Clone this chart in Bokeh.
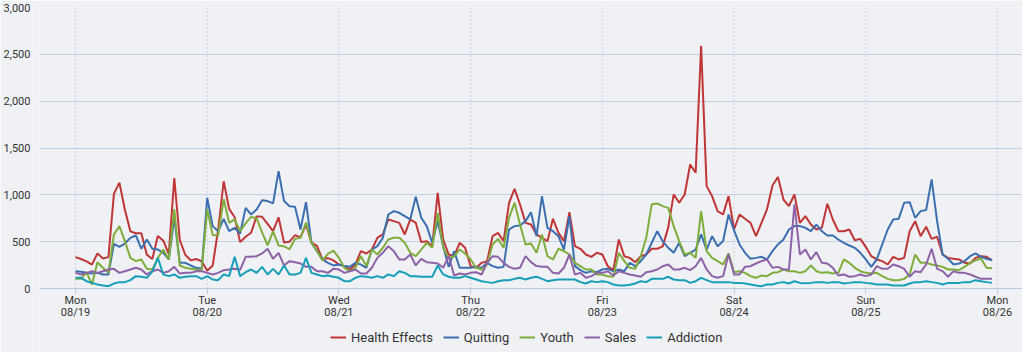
from bokeh.plotting import figure
from bokeh.models import (FixedTicker, NumeralTickFormatter, Legend, LegendItem, Range1d,
                          ColumnDataSource, LinearAxis)
from bokeh.embed import file_html
from bokeh.resources import INLINE

# Hourly values, Mon 08/19 00:00 .. Sun 08/25 23:00
day_names = ["Mon", "Tue", "Wed", "Thu", "Fri", "Sat", "Sun", "Mon"]
day_dates = ["08/19", "08/20", "08/21", "08/22", "08/23", "08/24", "08/25", "08/26"]
series_names = ["Health Effects", "Quitting", "Youth", "Sales", "Addiction"]
y_ticks = [0, 500, 1000, 1500, 2000, 2500, 3000]

health_effects = [
    # Mon
    335, 315, 290, 255, 375, 320, 335, 1010, 1130, 840, 610, 590, 590, 360, 315, 560, 510, 370, 1180, 520, 360, 300, 315, 290,
    # Tue
    190, 245, 630, 1145, 850, 760, 495, 552, 595, 770, 765, 690, 612, 760, 490, 500, 570, 545, 683, 490, 455, 310, 325, 300,
    # Wed
    256, 239, 203, 256, 399, 374, 416, 541, 577, 737, 719, 701, 577, 737, 701, 495, 505, 452, 1022, 523, 363, 345, 488, 434,
    # Thu
    239, 221, 274, 292, 559, 594, 505, 915, 1064, 897, 701, 683, 577, 541, 505, 744, 594, 505, 815, 452, 424, 363, 338, 381,
    # Fri
    363, 238, 196, 523, 345, 327, 281, 345, 363, 424, 424, 450, 650, 1004, 915, 1004, 1324, 1235, 2590, 1093, 986, 826, 790, 986,
    # Sat
    630, 790, 744, 701, 559, 701, 844, 1100, 1190, 950, 879, 1004, 701, 773, 683, 630, 650, 905, 737, 612, 612, 630, 516, 530,
    # Sun
    445, 345, 310, 292, 256, 338, 310, 327, 612, 719, 559, 659, 530, 552, 363, 327, 317, 310, 274, 267, 327, 345, 338, 300,
]
quitting = [
    185, 178, 167, 160, 167, 150, 150, 477, 445, 480, 541, 566, 424, 523, 424, 416, 381, 310, 755, 274, 274, 246, 221, 210,
    968, 666, 612, 744, 612, 648, 587, 861, 790, 844, 943, 933, 908, 1253, 933, 879, 872, 630, 922, 488, 399, 310, 274, 246,
    256, 239, 231, 274, 256, 221, 416, 452, 541, 790, 826, 808, 773, 737, 979, 755, 666, 488, 719, 452, 231, 399, 221, 221,
    221, 231, 221, 274, 239, 221, 231, 630, 666, 673, 719, 815, 559, 986, 648, 612, 559, 416, 773, 239, 196, 167, 185, 174,
    203, 210, 185, 203, 185, 274, 238, 292, 363, 488, 612, 505, 434, 381, 488, 345, 381, 416, 577, 416, 559, 452, 505, 790,
    620, 470, 381, 317, 327, 338, 310, 399, 470, 523, 630, 666, 666, 648, 612, 683, 612, 566, 566, 523, 488, 459, 434, 381,
    310, 231, 310, 470, 630, 737, 744, 915, 922, 755, 826, 837, 1164, 719, 363, 317, 256, 267, 292, 345, 374, 338, 317, 305,
]
youth = [
    103, 103, 174, 43, 281, 221, 167, 577, 666, 505, 327, 292, 310, 210, 203, 327, 416, 310, 844, 246, 221, 210, 203, 196,
    844, 570, 566, 955, 701, 737, 612, 695, 765, 750, 600, 460, 610, 460, 450, 420, 530, 541, 705, 490, 400, 300, 370, 405,
    327, 221, 185, 221, 345, 239, 416, 363, 434, 523, 541, 541, 488, 381, 345, 416, 488, 434, 808, 434, 327, 345, 416, 374,
    310, 221, 203, 256, 470, 530, 434, 755, 915, 683, 470, 480, 381, 577, 345, 310, 424, 399, 363, 274, 239, 203, 203, 150,
    150, 130, 125, 381, 292, 221, 210, 345, 541, 900, 908, 879, 861, 666, 505, 363, 381, 327, 826, 399, 327, 292, 256, 375,
    174, 185, 167, 132, 114, 139, 132, 167, 174, 203, 185, 185, 167, 185, 246, 185, 167, 174, 160, 167, 310, 274, 221, 185,
    167, 160, 167, 132, 103, 89, 89, 103, 150, 363, 274, 274, 256, 246, 231, 203, 203, 196, 231, 274, 300, 320, 221, 215,
]
sales = [
    167, 150, 167, 185, 167, 185, 203, 210, 167, 185, 203, 221, 203, 150, 185, 203, 167, 185, 231, 160, 167, 167, 185, 185,
    167, 150, 167, 196, 203, 210, 200, 338, 338, 345, 374, 424, 317, 381, 246, 292, 281, 267, 231, 231, 185, 185, 167, 210,
    203, 167, 185, 203, 160, 160, 221, 327, 381, 452, 399, 310, 310, 363, 246, 317, 281, 274, 267, 221, 345, 139, 160, 150,
    167, 174, 150, 274, 345, 338, 274, 231, 210, 221, 345, 281, 239, 231, 231, 167, 160, 221, 363, 150, 167, 114, 132, 167,
    167, 185, 139, 185, 167, 150, 139, 125, 174, 185, 203, 238, 256, 203, 203, 221, 196, 238, 327, 203, 132, 114, 132, 363,
    150, 150, 231, 238, 267, 292, 310, 221, 231, 203, 203, 897, 363, 416, 310, 388, 274, 267, 221, 139, 150, 125, 132, 150,
    132, 150, 238, 210, 210, 256, 238, 210, 125, 185, 174, 256, 424, 210, 185, 125, 185, 167, 167, 150, 125, 103, 103, 103,
]
addiction = [
    114, 114, 78, 60, 43, 32, 25, 53, 68, 68, 89, 132, 125, 114, 180, 327, 150, 132, 150, 114, 125, 132, 132, 103,
    132, 96, 89, 150, 132, 338, 132, 174, 203, 167, 231, 150, 210, 150, 246, 150, 150, 167, 327, 167, 150, 132, 139, 125,
    114, 78, 78, 114, 132, 125, 114, 132, 114, 150, 132, 185, 167, 132, 132, 125, 125, 125, 246, 150, 125, 114, 114, 132,
    114, 96, 78, 68, 60, 78, 89, 89, 103, 114, 96, 114, 125, 103, 78, 89, 96, 96, 96, 96, 68, 53, 78, 68,
    78, 68, 43, 32, 32, 39, 53, 78, 68, 103, 103, 103, 125, 96, 89, 89, 60, 78, 114, 89, 68, 68, 68, 68,
    60, 60, 53, 43, 32, 25, 43, 43, 60, 68, 53, 78, 60, 55, 60, 68, 68, 60, 68, 68, 53, 60, 68, 68,
    60, 53, 43, 43, 43, 32, 32, 32, 53, 68, 68, 78, 68, 60, 43, 60, 60, 60, 68, 68, 89, 78, 68, 60,
]

hours = list(range(len(health_effects)))
colors = ["#c03636", "#3b6fb0", "#7fad3b", "#8d62a7", "#179fb9"]
all_series = [health_effects, quitting, youth, sales, addiction]

FONT = "Roboto"
TXT = "#333333"
BG = "#eff1f4"

# value axis spans y_ticks; the frame continues below zero to hold the axis labels and legend
Y_MIN, Y_MAX = y_ticks[0], y_ticks[-1]
PLOT_PX = 281.0
FRAME_PX = 345
y_start = Y_MIN - (FRAME_PX - PLOT_PX) * (Y_MAX - Y_MIN) / PLOT_PX

p = figure(frame_width=983, frame_height=FRAME_PX, output_backend="svg", toolbar_location=None,
           x_range=Range1d(-6.56, 172.56), y_range=Range1d(y_start, Y_MAX),
           min_border_left=0, min_border_right=0, min_border_top=7, min_border_bottom=0)
p.background_fill_color = BG
p.border_fill_color = BG
p.outline_line_color = None

# vertical dotted day lines (limited to the value area)
day_ticks = [24 * i for i in range(len(day_names))]
p.segment(x0=day_ticks, y0=[Y_MIN] * len(day_ticks), x1=day_ticks, y1=[Y_MAX] * len(day_ticks),
          line_color="#a9b6cc", line_dash="1 3", line_width=1)
p.xgrid.grid_line_color = None

renderers = []
for name, ys, c in zip(series_names, all_series, colors):
    src = ColumnDataSource(dict(x=hours, y=ys))
    r = p.line("x", "y", source=src, line_color=c, line_width=2)
    renderers.append((name, r))

# y axis
p.yaxis.ticker = FixedTicker(ticks=y_ticks)
p.yaxis.formatter = NumeralTickFormatter(format="0,0")
p.yaxis.axis_line_color = None
p.yaxis.major_tick_line_color = None
p.yaxis.minor_tick_line_color = None
p.yaxis.major_label_text_font = FONT
p.yaxis.major_label_text_font_size = "11px"
p.yaxis.major_label_text_color = TXT
p.yaxis.major_label_standoff = 3
p.ygrid.ticker = FixedTicker(ticks=y_ticks)
p.ygrid.grid_line_color = "#c3d0e3"
p.ygrid.grid_line_width = 1

# x axis: weekday row, drawn at value 0
xa = p.xaxis[0]
xa.fixed_location = Y_MIN
xa.ticker = FixedTicker(ticks=day_ticks)
xa.major_label_overrides = {t: lab for t, lab in zip(day_ticks, day_names)}
xa.axis_line_color = "#b8c8de"
xa.major_tick_line_color = "#b8c8de"
xa.major_tick_out = 5
xa.major_tick_in = 0
xa.minor_tick_line_color = None
xa.major_label_text_font = FONT
xa.major_label_text_font_size = "11px"
xa.major_label_text_color = TXT
xa.major_label_standoff = 0

# x axis: date row
xb = LinearAxis(ticker=FixedTicker(ticks=day_ticks), fixed_location=Y_MIN,
                major_label_overrides={t: lab for t, lab in zip(day_ticks, day_dates)})
xb.axis_line_color = None
xb.major_tick_line_color = None
xb.minor_tick_line_color = None
xb.major_tick_out = 0
xb.major_tick_in = 0
xb.major_label_text_font = FONT
xb.major_label_text_font_size = "11px"
xb.major_label_text_color = TXT
xb.major_label_standoff = 17
p.add_layout(xb, "below")

legend = Legend(items=[LegendItem(label=n, renderers=[r]) for n, r in renderers],
                orientation="horizontal", location=(289, 4))
legend.label_text_font = FONT
legend.label_text_font_size = "13px"
legend.label_text_color = TXT
legend.glyph_width = 16
legend.glyph_height = 14
legend.label_height = 18
legend.label_standoff = 5
legend.spacing = 10
legend.padding = 2
legend.margin = 0
legend.background_fill_alpha = 0
legend.border_line_alpha = 0
p.add_layout(legend, "center")

open("out.html", "w").write(file_html(p, INLINE))
